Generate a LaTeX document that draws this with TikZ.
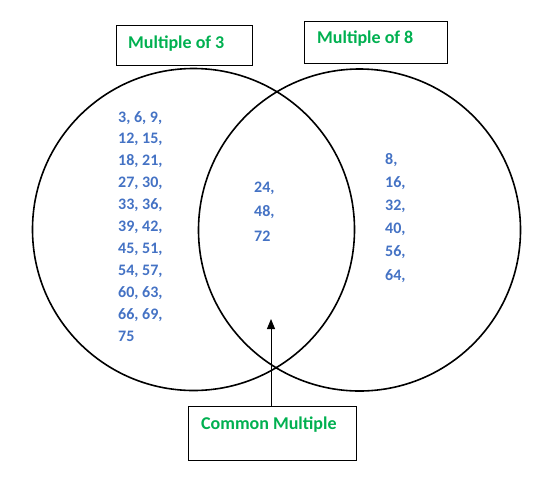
\documentclass[tikz,border=0pt]{standalone}
\usepackage{fontspec}
\setmainfont{Carlito}
\usetikzlibrary{arrows.meta}
\definecolor{numblue}{HTML}{4472C4}
\definecolor{labgreen}{HTML}{00B050}
\tikzset{
  ring/.style={draw=black, line width=1.6pt},
  labbox/.style={draw=black, line width=1pt},
  lab/.style={anchor=base west, inner sep=0pt, text=labgreen, font=\fontsize{18}{20}\selectfont\bfseries},
  num/.style={anchor=base west, inner sep=0pt, text=numblue, font=\fontsize{16}{18}\selectfont\bfseries},
}
\begin{document}
\begin{tikzpicture}[x=1pt,y=-1pt]
\useasboundingbox (0,0) rectangle (538,480);
% circles
\draw[ring] (193.5,229.5) circle[radius=161];
\draw[ring] (359.5,230) circle[radius=161];
% label boxes
\node[labbox, minimum width=136pt, minimum height=40pt, inner sep=0pt] (b3) at (184,45) {};
\node[lab] (t3) at (128,48) {Multiple of 3};
\node[labbox, minimum width=143pt, minimum height=42pt, inner sep=0pt] (b8) at (375.5,42) {};
\node[lab] (t8) at (317,43) {Multiple of 8};
\node[labbox, minimum width=168pt, minimum height=54pt, inner sep=0pt] (bc) at (272,433) {};
\node[lab] (tc) at (201,429) {Common Multiple};
\coordinate (tip) at (271,319);
\draw[line width=1pt, -{Triangle[length=10pt,width=8pt]}] (bc.north -| tip) -- (tip);
% left numbers
\foreach \t [count=\i] in {{3, 6, 9,},{12, 15,},{18, 21,},{27, 30,},{33, 36,},{39, 42,},{45, 51,},{54, 57,},{60, 63,},{66, 69,},{75}}
  \node[num] (l\i) at (118,{122+21.9*(\i-1)}) {\t};
% middle numbers
\foreach \t [count=\i] in {{24,},{48,},{72}}
  \node[num] (m\i) at (254,{192+24.5*(\i-1)}) {\t};
% right numbers
\foreach \t [count=\i] in {{8,},{16,},{32,},{40,},{56,},{64,}}
  \node[num] (r\i) at (385,{164+23.2*(\i-1)}) {\t};
\end{tikzpicture}
\end{document}
